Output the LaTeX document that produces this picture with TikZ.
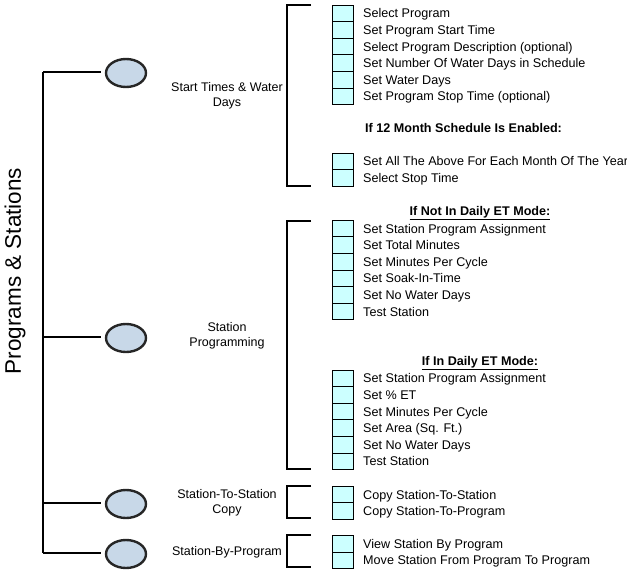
\documentclass[tikz,border=0pt]{standalone}
\usepackage{fontspec}
\setmainfont{Liberation Sans}
\usepackage{xcolor}
\usetikzlibrary{shapes.geometric, positioning}

\definecolor{ovalfill}{RGB}{200,216,232}
\definecolor{cellfill}{RGB}{204,255,255}

\begin{document}
\begin{tikzpicture}[x=1pt, y=-1pt,
    % --- node styles ---
    oval/.style={ellipse, draw=black!85, line width=2.4pt, fill=ovalfill,
        minimum width=40pt, minimum height=28pt, inner sep=0pt},
    grp/.style={align=center, inner sep=0pt,
        font=\fontsize{12.5}{15.5}\selectfont},
    cell/.style={rectangle, draw=black, line width=0.9pt, fill=cellfill,
        minimum width=21pt, minimum height=16.6pt, inner sep=0pt, outer sep=0pt},
    item/.style={inner sep=0pt, text height=10.5pt, text depth=1.5pt,
        font=\fontsize{12.6}{15}\selectfont},
    head/.style={inner sep=0pt, font=\fontsize{12.6}{15}\selectfont\bfseries},
    ttl/.style={rotate=90, inner sep=0pt, font=\fontsize{22.5}{26}\selectfont},
    % --- line styles ---
    trunk/.style={line width=1.3pt},
    brk/.style={line width=1.5pt},
    edgel/.style={line width=1.8pt},
    node distance=0pt and 9.5pt
]

\useasboundingbox (0,0) rectangle (627,571);

%%% ================= TITLE + TRUNK =================
\node (title) [ttl] at (15,271) {Programs \& Stations};

\coordinate (j1) at (43,72);
\coordinate (j2) at (43,337);
\coordinate (j3) at (43,503);
\coordinate (j4) at (43,553);

%%% ================= GROUPS =================
\node (e1) [oval] at (126,73) {};
\node (e2) [oval] at (126,338) {};
\node (e3) [oval] at (126,504) {};
\node (e4) [oval] at (126,554) {};

\node (l1) [grp] at (227,96)  {Start Times \& Water\\Days};
\node (l2) [grp] at (227,336) {Station\\Programming};
\node (l3) [grp] at (227,503) {Station-To-Station\\Copy};
\node (l4) [grp] at (227,552) {Station-By-Program};

%%% ================= START TIMES =================
\node (a1) [cell] at (343,13.3) {};
\node (a2) [cell, below=of a1] {};
\node (a3) [cell, below=of a2] {};
\node (a4) [cell, below=of a3] {};
\node (a5) [cell, below=of a4] {};
\node (a6) [cell, below=of a5] {};
\node [item, right=of a1] {Select Program};
\node [item, right=of a2] {Set Program Start Time};
\node [item, right=of a3] {Select Program Description (optional)};
\node [item, right=of a4] {Set Number Of Water Days in Schedule};
\node [item, right=of a5] {Set Water Days};
\node [item, right=of a6] {Set Program Stop Time (optional)};

\node (h1) [head, anchor=west] at (365,128) {If 12 Month Schedule Is Enabled:};

\node (b1) [cell] at (343,161.3) {};
\node (b2) [cell, below=of b1] {};
\node [item, right=of b1] {Set All The Above For Each Month Of The Year};
\node [item, right=of b2] {Select Stop Time};

%%% ================= STATION PROGRAMMING =================
\node (h2) [head] at (480,213) {\underline{If Not In Daily ET Mode:}};

\node (c1) [cell] at (343,228.6) {};
\node (c2) [cell, below=of c1] {};
\node (c3) [cell, below=of c2] {};
\node (c4) [cell, below=of c3] {};
\node (c5) [cell, below=of c4] {};
\node (c6) [cell, below=of c5] {};
\node [item, right=of c1] {Set Station Program Assignment};
\node [item, right=of c2] {Set Total Minutes};
\node [item, right=of c3] {Set Minutes Per Cycle};
\node [item, right=of c4] {Set Soak-In-Time};
\node [item, right=of c5] {Set No Water Days};
\node [item, right=of c6] {Test Station};

\node (h3) [head] at (480,363) {\underline{If In Daily ET Mode:}};

\node (d1) [cell] at (343,378.3) {};
\node (d2) [cell, below=of d1] {};
\node (d3) [cell, below=of d2] {};
\node (d4) [cell, below=of d3] {};
\node (d5) [cell, below=of d4] {};
\node (d6) [cell, below=of d5] {};
\node [item, right=of d1] {Set Station Program Assignment};
\node [item, right=of d2] {Set \% ET};
\node [item, right=of d3] {Set Minutes Per Cycle};
\node [item, right=of d4] {Set Area (Sq. Ft.)};
\node [item, right=of d5] {Set No Water Days};
\node [item, right=of d6] {Test Station};

%%% ================= COPY / BY PROGRAM =================
\node (f1) [cell] at (343,494.5) {};
\node (f2) [cell, below=of f1] {};
\node [item, right=of f1] {Copy Station-To-Station};
\node [item, right=of f2] {Copy Station-To-Program};

\node (g1) [cell] at (343,543.8) {};
\node (g2) [cell, below=of g1] {};
\node [item, right=of g1] {View Station By Program};
\node [item, right=of g2] {Move Station From Program To Program};

%%% ================= LINES =================
%% trunk and branches
\draw [trunk] (j1) -- (j4);
\draw [trunk] (j1) -- ([xshift=-4pt]e1.west |- j1);
\draw [trunk] (j2) -- ([xshift=-4pt]e2.west |- j2);
\draw [trunk] (j3) -- ([xshift=-4pt]e3.west |- j3);
\draw [trunk] (j4) -- ([xshift=-4pt]e4.west |- j4);

%% brackets
\draw [brk] (311,5) -| (287,186) -- (311,186);
\draw [brk] (311,221) -| (287,469) -- (311,469);
\draw [brk] (311,486) -| (287,518) -- (311,518);
\draw [brk] (311,535) -| (287,567) -- (311,567);

%% heavy left edge of cell columns
\draw [edgel] (a1.north west) -- (a6.south west);
\draw [edgel] (b1.north west) -- (b2.south west);
\draw [edgel] (c1.north west) -- (c6.south west);
\draw [edgel] (d1.north west) -- (d6.south west);
\draw [edgel] (f1.north west) -- (f2.south west);
\draw [edgel] (g1.north west) -- (g2.south west);

\end{tikzpicture}
\end{document}
